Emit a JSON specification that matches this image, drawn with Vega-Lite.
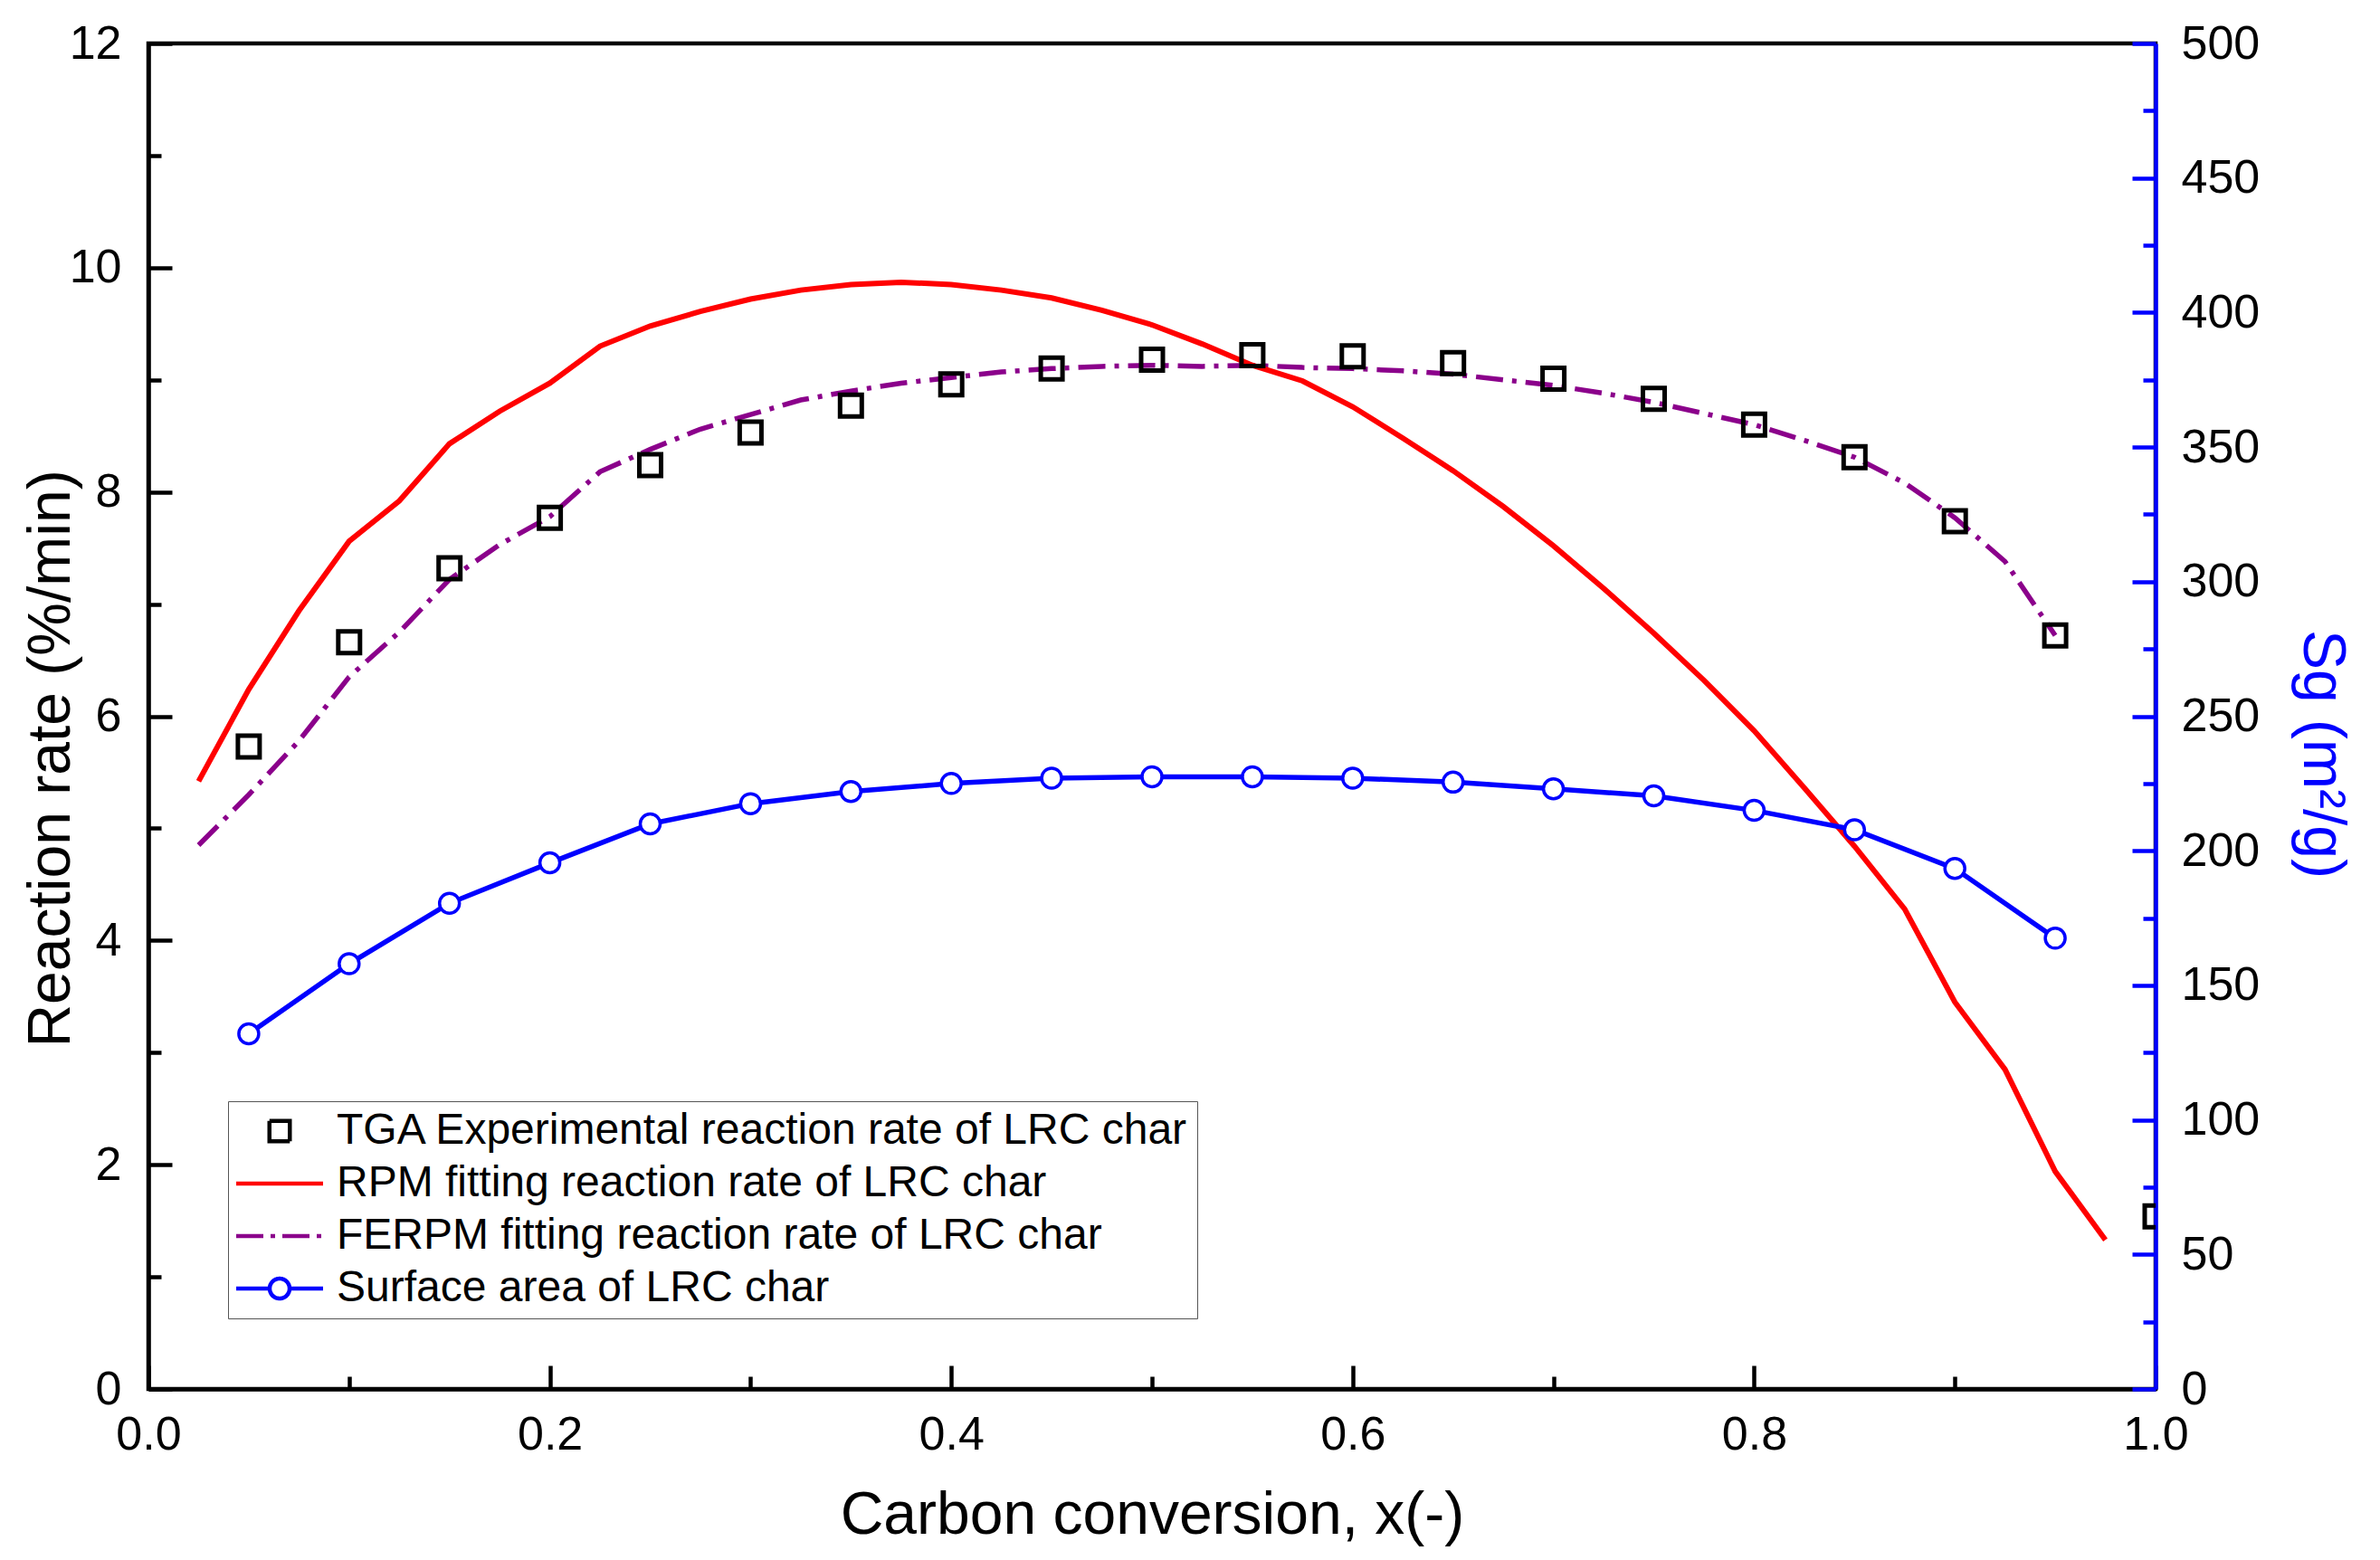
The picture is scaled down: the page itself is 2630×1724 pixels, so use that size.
{
  "$schema": "https://vega.github.io/schema/vega-lite/v6.json",
  "width": 2218,
  "height": 1487,
  "autosize": "none",
  "padding": {"left": 164, "top": 48, "right": 248, "bottom": 189},
  "background": "white",
  "datasets": {
    "tga": [
      {"x": 0.05, "rate": 5.73}, {"x": 0.1, "rate": 6.66}, {"x": 0.15, "rate": 7.32},
      {"x": 0.2, "rate": 7.77}, {"x": 0.25, "rate": 8.24}, {"x": 0.3, "rate": 8.53},
      {"x": 0.35, "rate": 8.77}, {"x": 0.4, "rate": 8.96}, {"x": 0.45, "rate": 9.1},
      {"x": 0.5, "rate": 9.18}, {"x": 0.55, "rate": 9.22}, {"x": 0.6, "rate": 9.21},
      {"x": 0.65, "rate": 9.15}, {"x": 0.7, "rate": 9.01}, {"x": 0.75, "rate": 8.83},
      {"x": 0.8, "rate": 8.6}, {"x": 0.85, "rate": 8.31}, {"x": 0.9, "rate": 7.74},
      {"x": 0.95, "rate": 6.72}, {"x": 1.0, "rate": 1.54}
    ],
    "rpm": [
      {"x": 0.025, "rate": 5.42}, {"x": 0.05, "rate": 6.24}, {"x": 0.075, "rate": 6.94},
      {"x": 0.1, "rate": 7.56}, {"x": 0.125, "rate": 7.92}, {"x": 0.15, "rate": 8.43},
      {"x": 0.175, "rate": 8.72}, {"x": 0.2, "rate": 8.97}, {"x": 0.225, "rate": 9.3},
      {"x": 0.25, "rate": 9.48}, {"x": 0.275, "rate": 9.61}, {"x": 0.3, "rate": 9.72},
      {"x": 0.325, "rate": 9.8}, {"x": 0.35, "rate": 9.85}, {"x": 0.375, "rate": 9.87},
      {"x": 0.4, "rate": 9.85}, {"x": 0.425, "rate": 9.8}, {"x": 0.45, "rate": 9.73},
      {"x": 0.475, "rate": 9.62}, {"x": 0.5, "rate": 9.49}, {"x": 0.525, "rate": 9.32},
      {"x": 0.55, "rate": 9.13}, {"x": 0.575, "rate": 8.99}, {"x": 0.6, "rate": 8.76},
      {"x": 0.625, "rate": 8.48}, {"x": 0.65, "rate": 8.19}, {"x": 0.675, "rate": 7.87},
      {"x": 0.7, "rate": 7.52}, {"x": 0.725, "rate": 7.14}, {"x": 0.75, "rate": 6.74},
      {"x": 0.775, "rate": 6.32}, {"x": 0.8, "rate": 5.87}, {"x": 0.825, "rate": 5.36},
      {"x": 0.85, "rate": 4.84}, {"x": 0.875, "rate": 4.28}, {"x": 0.9, "rate": 3.45},
      {"x": 0.925, "rate": 2.85}, {"x": 0.95, "rate": 1.94}, {"x": 0.975, "rate": 1.33}
    ],
    "ferpm": [
      {"x": 0.025, "rate": 4.85}, {"x": 0.05, "rate": 5.3}, {"x": 0.075, "rate": 5.78},
      {"x": 0.1, "rate": 6.35}, {"x": 0.125, "rate": 6.75}, {"x": 0.15, "rate": 7.22},
      {"x": 0.175, "rate": 7.53}, {"x": 0.2, "rate": 7.78}, {"x": 0.225, "rate": 8.18},
      {"x": 0.25, "rate": 8.38}, {"x": 0.275, "rate": 8.56}, {"x": 0.3, "rate": 8.69},
      {"x": 0.325, "rate": 8.82}, {"x": 0.35, "rate": 8.9}, {"x": 0.375, "rate": 8.97},
      {"x": 0.4, "rate": 9.02}, {"x": 0.425, "rate": 9.07}, {"x": 0.45, "rate": 9.1},
      {"x": 0.475, "rate": 9.12}, {"x": 0.5, "rate": 9.13}, {"x": 0.525, "rate": 9.12},
      {"x": 0.55, "rate": 9.13}, {"x": 0.575, "rate": 9.11}, {"x": 0.6, "rate": 9.1},
      {"x": 0.625, "rate": 9.08}, {"x": 0.65, "rate": 9.05}, {"x": 0.675, "rate": 9.0},
      {"x": 0.7, "rate": 8.95}, {"x": 0.725, "rate": 8.88}, {"x": 0.75, "rate": 8.8},
      {"x": 0.775, "rate": 8.7}, {"x": 0.8, "rate": 8.6}, {"x": 0.825, "rate": 8.46},
      {"x": 0.85, "rate": 8.31}, {"x": 0.875, "rate": 8.08}, {"x": 0.9, "rate": 7.77},
      {"x": 0.925, "rate": 7.38}, {"x": 0.95, "rate": 6.72}
    ],
    "surface": [
      {"x": 0.05, "area": 132}, {"x": 0.1, "area": 158}, {"x": 0.15, "area": 180.5},
      {"x": 0.2, "area": 195.5}, {"x": 0.25, "area": 210}, {"x": 0.3, "area": 217.5},
      {"x": 0.35, "area": 222}, {"x": 0.4, "area": 225}, {"x": 0.45, "area": 227},
      {"x": 0.5, "area": 227.5}, {"x": 0.55, "area": 227.5}, {"x": 0.6, "area": 227},
      {"x": 0.65, "area": 225.5}, {"x": 0.7, "area": 223}, {"x": 0.75, "area": 220.4},
      {"x": 0.8, "area": 215}, {"x": 0.85, "area": 207.8}, {"x": 0.9, "area": 193.4},
      {"x": 0.95, "area": 167.5}
    ]
  },
  "layer": [
    {
      "layer": [
        {
          "data": {"name": "ferpm"},
          "mark": {"type": "line", "color": "#8b008b", "strokeWidth": 5.5, "strokeDash": [30, 10, 5, 10]},
          "encoding": {
            "x": {
              "field": "x", "type": "quantitative",
              "scale": {"domain": [0, 1], "nice": false},
              "axis": {
                "values": [0, 0.1, 0.2, 0.3, 0.4, 0.5, 0.6, 0.7, 0.8, 0.9, 1.0],
                "format": ".1f",
                "labelExpr": "round(datum.value * 10) % 2 === 0 ? datum.label : ''",
                "tickSize": {"condition": {"test": "round(datum.value * 10) % 2 === 0", "value": -26}, "value": -14},
                "labelPadding": 51,
                "title": "Carbon conversion, x(-)",
                "titleX": 1109,
                "titleY": 159,
                "titleBaseline": "alphabetic"
              }
            },
            "y": {
              "field": "rate", "type": "quantitative",
              "scale": {"domain": [0, 12], "nice": false},
              "axis": {
                "values": [0, 1, 2, 3, 4, 5, 6, 7, 8, 9, 10, 11, 12],
                "format": "d",
                "labelExpr": "datum.value % 2 === 0 ? datum.label : ''",
                "tickSize": {"condition": {"test": "datum.value % 2 === 0", "value": -26}, "value": -14},
                "labelPadding": 56,
                "title": "Reaction rate (%/min)",
                "titleAngle": -90,
                "titleX": -108,
                "titleY": 790,
                "titleAlign": "center",
                "titleBaseline": "middle"
              }
            }
          }
        },
        {
          "data": {"name": "rpm"},
          "mark": {"type": "line", "color": "#ff0000", "strokeWidth": 6},
          "encoding": {
            "x": {"field": "x", "type": "quantitative"},
            "y": {"field": "rate", "type": "quantitative"}
          }
        },
        {
          "data": {"name": "tga"},
          "mark": {"type": "point", "shape": "square", "size": 576, "filled": false, "color": "black", "strokeWidth": 5, "opacity": 1, "clip": true},
          "encoding": {
            "x": {"field": "x", "type": "quantitative"},
            "y": {"field": "rate", "type": "quantitative"}
          }
        },
        {
          "data": {"values": []},
          "mark": {"type": "point", "filled": false, "strokeWidth": 4, "opacity": 1},
          "encoding": {
            "color": {
              "field": "series", "type": "nominal",
              "scale": {
                "domain": ["TGA Experimental reaction rate of LRC char", "RPM fitting reaction rate of LRC char", "FERPM fitting reaction rate of LRC char", "Surface area of LRC char"],
                "range": ["black", "#ff0000", "#8b008b", "#0000ff"]
              },
              "legend": {
                "orient": "none",
                "legendX": 88,
                "legendY": 1169,
                "title": null,
                "direction": "vertical",
                "padding": 9,
                "strokeColor": "#555555",
                "fillColor": "white",
                "symbolSize": 900,
                "symbolStrokeWidth": 4.5,
                "symbolOffset": 24,
                "labelFontSize": 48,
                "labelLimit": 0,
                "labelOffset": 39,
                "rowPadding": 10
              }
            },
            "shape": {
              "field": "series", "type": "nominal",
              "scale": {
                "domain": ["TGA Experimental reaction rate of LRC char", "RPM fitting reaction rate of LRC char", "FERPM fitting reaction rate of LRC char", "Surface area of LRC char"],
                "range": [
                  "M-0.75,-0.75H0.75V0.75H-0.75Z",
                  "M-3.2,0H3.2",
                  "M-3.2,0H3.2",
                  "M-3.2,0H-0.733M0.733,0H3.2M0.733,0A0.733,0.733 0 1,1 -0.733,0A0.733,0.733 0 1,1 0.733,0"
                ]
              }
            },
            "strokeDash": {
              "field": "series", "type": "nominal",
              "scale": {
                "domain": ["TGA Experimental reaction rate of LRC char", "RPM fitting reaction rate of LRC char", "FERPM fitting reaction rate of LRC char", "Surface area of LRC char"],
                "range": [[1, 0], [1, 0], [30, 8, 5, 8], [1, 0]]
              }
            }
          }
        }
      ]
    },
    {
      "data": {"name": "surface"},
      "encoding": {
        "x": {"field": "x", "type": "quantitative"},
        "y": {
          "field": "area", "type": "quantitative",
          "scale": {"domain": [0, 500], "nice": false},
          "axis": {
            "orient": "right",
            "values": [0, 25, 50, 75, 100, 125, 150, 175, 200, 225, 250, 275, 300, 325, 350, 375, 400, 425, 450, 475, 500],
            "labelExpr": "datum.value % 50 === 0 ? datum.label : ''",
            "tickSize": {"condition": {"test": "datum.value % 50 === 0", "value": -26}, "value": -14},
            "labelPadding": 54,
            "domainColor": "#0000ff",
            "tickColor": "#0000ff",
            "title": "Sg (m²/g)",
            "titleColor": "#0000ff",
            "titleAngle": 90,
            "titleX": 183,
            "titleY": 785,
            "titleAlign": "center",
            "titleBaseline": "middle"
          }
        }
      },
      "layer": [
        {"mark": {"type": "line", "color": "#0000ff", "strokeWidth": 5.5}},
        {"mark": {"type": "point", "shape": "circle", "size": 484, "filled": true, "fill": "white", "stroke": "#0000ff", "strokeWidth": 3.5, "opacity": 1}}
      ]
    }
  ],
  "resolve": {"scale": {"y": "independent"}},
  "config": {
    "font": "Liberation Sans",
    "view": {"stroke": "black", "strokeWidth": 4.5},
    "axis": {
      "grid": false,
      "domainColor": "black",
      "domainWidth": 4.5,
      "tickColor": "black",
      "tickWidth": 4.5,
      "labelFont": "Liberation Sans",
      "labelFontSize": 52,
      "labelColor": "black",
      "labelFlush": false,
      "labelOverlap": false,
      "titleFont": "Liberation Sans",
      "titleFontSize": 66,
      "titleFontWeight": "normal",
      "titleColor": "black"
    },
    "legend": {
      "labelFont": "Liberation Sans",
      "labelColor": "black"
    }
  }
}
